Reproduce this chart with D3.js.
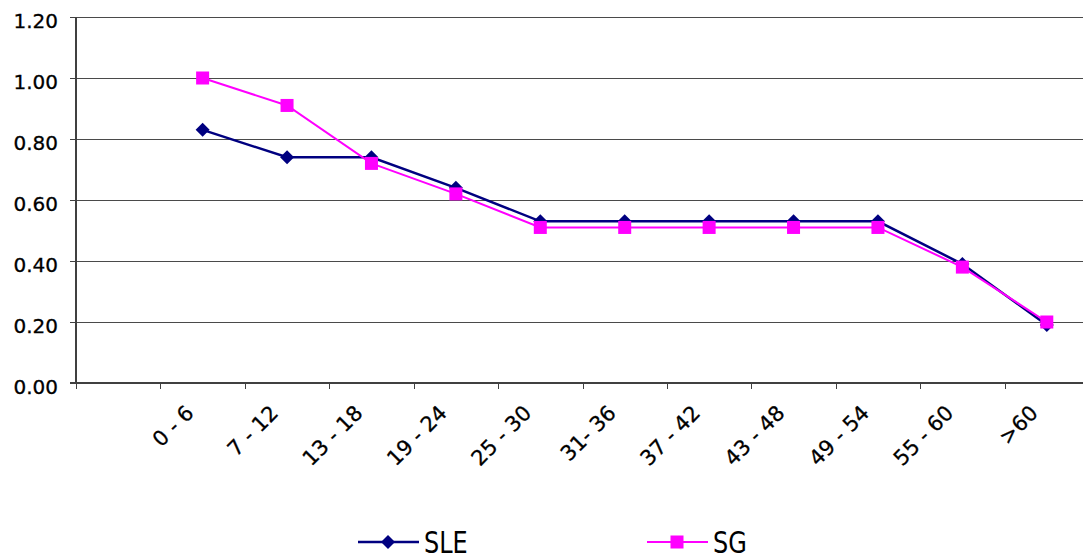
<!DOCTYPE html>
<html>
<head>
<meta charset="utf-8">
<script src="https://cdn.jsdelivr.net/npm/d3@7"></script>
<style>
  html, body { margin: 0; padding: 0; background: #fff; }
  svg { display: block; font-family: "DejaVu Sans", Verdana, sans-serif; }
</style>
</head>
<body>
<svg id="chart" width="1083" height="560"></svg>
<script>
// Age groups (months) shown along the x axis
const categories = ["0 - 6", "7 - 12", "13 - 18", "19 - 24", "25 - 30", "31- 36",
                    "37 - 42", "43 - 48", "49 - 54", "55 - 60", ">60"];
const sleValues = [0.83, 0.74, 0.74, 0.64, 0.53, 0.53, 0.53, 0.53, 0.53, 0.39, 0.19];
const sgValues  = [1.00, 0.91, 0.72, 0.62, 0.51, 0.51, 0.51, 0.51, 0.51, 0.38, 0.20];
const yTicks = [0, 0.2, 0.4, 0.6, 0.8, 1.0, 1.2];
const seriesNames = ["SLE", "SG"];

const svg = d3.select("#chart");
const plotLeft = 76, plotRight = 1089, plotTop = 17, plotBottom = 383;

// first slot is left empty, then one slot per age group
const x = d3.scaleBand().domain(["", ...categories]).range([plotLeft, plotRight]).paddingInner(0).paddingOuter(0);
const y = d3.scaleLinear().domain([0, 1.2]).range([plotBottom, plotTop]);
const cx = c => x(c) + x.bandwidth() / 2;

// horizontal gridlines
svg.append("g").selectAll("line").data(yTicks.filter(t => t > 0)).join("line")
  .attr("x1", plotLeft).attr("x2", 1083)
  .attr("y1", d => Math.round(y(d)) + 0.5).attr("y2", d => Math.round(y(d)) + 0.5)
  .attr("stroke", "#4a4a4a").attr("stroke-width", 1);

// y axis
const yAxis = d3.axisLeft(y).tickValues(yTicks).tickFormat(d3.format(".2f")).tickSize(6).tickPadding(12);
const gy = svg.append("g").attr("transform", `translate(${plotLeft},0)`).call(yAxis);
gy.select(".domain").attr("stroke", "#404040").attr("stroke-width", 2).attr("d", `M0,${plotTop}V${plotBottom}`);
gy.selectAll(".tick line").attr("stroke", "#404040");
gy.selectAll(".tick text").attr("font-size", 20).attr("fill", "#000")
  .attr("font-family", "DejaVu Sans").attr("dy", "0.5em")
  .attr("stroke", "#000").attr("stroke-width", 0.3);

// x axis: ticks at slot boundaries
const xb = d3.scaleLinear().domain([0, 12]).range([plotLeft, plotRight]);
const gx = svg.append("g");
gx.append("line").attr("x1", plotLeft - 6).attr("x2", 1083).attr("y1", plotBottom).attr("y2", plotBottom)
  .attr("stroke", "#404040").attr("stroke-width", 2);
gx.selectAll("line.tk").data(d3.range(0, 12)).join("line").attr("class", "tk")
  .attr("x1", d => Math.round(xb(d)) + 0.5).attr("x2", d => Math.round(xb(d)) + 0.5)
  .attr("y1", plotBottom).attr("y2", plotBottom + 6)
  .attr("stroke", "#404040").attr("stroke-width", 1);
gx.selectAll("text").data(categories).join("text")
  .attr("transform", d => `translate(${cx(d) - 18},${plotBottom + 21}) rotate(-45)`)
  .attr("text-anchor", "end").attr("dy", "0.7em")
  .attr("font-size", 21).attr("fill", "#000")
  .attr("stroke", "#000").attr("stroke-width", 0.3).text(d => d);

// series
const series = [
  { name: seriesNames[0], values: sleValues, color: "#000080", width: 2.5, marker: "diamond" },
  { name: seriesNames[1], values: sgValues,  color: "#FF00FF", width: 2,   marker: "square" }
];
const line = d3.line().x((d, i) => cx(categories[i])).y(d => y(d));

function drawMarker(g, kind, color, px, py) {
  if (kind === "diamond") {
    g.append("path").attr("d", "M0,-7L7,0L0,7L-7,0Z").attr("transform", `translate(${px},${py})`).attr("fill", color);
  } else {
    g.append("rect").attr("x", px - 6.5).attr("y", py - 6.5).attr("width", 13).attr("height", 13).attr("fill", color);
  }
}

series.forEach(s => {
  const g = svg.append("g");
  g.append("path").datum(s.values).attr("d", line).attr("fill", "none")
    .attr("stroke", s.color).attr("stroke-width", s.width);
  s.values.forEach((v, i) => drawMarker(g, s.marker, s.color, cx(categories[i]), y(v)));
});

// legend
const legend = [
  { s: series[0], x0: 358 },
  { s: series[1], x0: 647 }
];
legend.forEach(({ s, x0 }) => {
  const g = svg.append("g");
  const ly = 542;
  g.append("line").attr("x1", x0).attr("x2", x0 + 61).attr("y1", ly).attr("y2", ly)
    .attr("stroke", s.color).attr("stroke-width", s.width);
  drawMarker(g, s.marker, s.color, x0 + 30, ly);
  g.append("text").attr("transform", `translate(${x0 + 66},${ly + 11}) scale(0.8,1)`)
    .attr("font-size", 30).attr("fill", "#000").text(s.name);
});
</script>
</body>
</html>
